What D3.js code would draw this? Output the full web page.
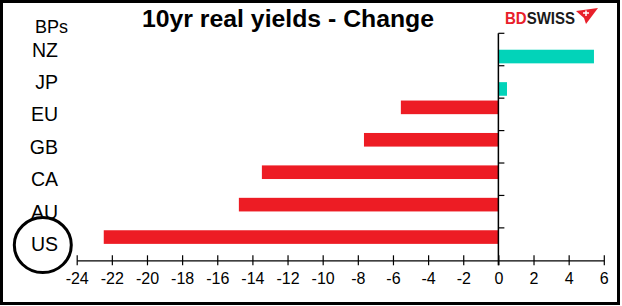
<!DOCTYPE html>
<html>
<head>
<meta charset="utf-8">
<script src="https://cdn.jsdelivr.net/npm/d3@7"></script>
<style>
  body { margin: 0; background: #fff; }
  svg { display: block; font-family: "Liberation Sans", Arial, sans-serif; }
</style>
</head>
<body>
<svg id="chart" width="622" height="306"></svg>
<script>
// Chart data
const countries = ["NZ", "JP", "EU", "GB", "CA", "AU", "US"];
const changes = [5.44, 0.49, -5.55, -7.65, -13.46, -14.77, -22.46];
const xTicks = [-24, -22, -20, -18, -16, -14, -12, -10, -8, -6, -4, -2, 0, 2, 4, 6];

const svg = d3.select("#chart");

// Outer frame
svg.append("rect")
    .attr("x", 1.5).attr("y", 1.5)
    .attr("width", 617).attr("height", 302)
    .attr("fill", "#fff")
    .attr("stroke", "#000")
    .attr("stroke-width", 3);

const x = d3.scaleLinear().domain([-24, 6]).range([76.7, 603.8]);
const y = d3.scaleBand().domain(countries).range([33.3, 260.3]).padding(0);
// red (negative) series sits high in the band, teal (positive) low
const sub = d3.scaleBand().domain(["neg", "pos"]).range([0, y.bandwidth()])
    .paddingInner(0.03).paddingOuter(0.17);

const colour = d => d < 0 ? "#ED1C24" : "#02D3B9";

// Bars
svg.append("g").selectAll("rect")
    .data(countries.map((c, i) => ({ c, v: changes[i] })))
    .join("rect")
    .attr("x", d => x(Math.min(0, d.v)))
    .attr("width", d => Math.abs(x(d.v) - x(0)))
    .attr("y", d => y(d.c) + sub(d.v < 0 ? "neg" : "pos"))
    .attr("height", sub.bandwidth())
    .attr("fill", d => colour(d.v));

// X axis with ticks crossing the line
const xAxis = svg.append("g")
    .attr("transform", `translate(0,${y.range()[1]})`)
    .call(d3.axisBottom(x).tickValues(xTicks).tickSize(5).tickSizeOuter(0).tickFormat(d3.format("d")));
xAxis.select(".domain").attr("stroke", "#000").attr("stroke-width", 1.2);
xAxis.selectAll(".tick line").attr("y1", -5).attr("stroke", "#000").attr("stroke-width", 1.2);
xAxis.selectAll(".tick text")
    .attr("y", 12)
    .attr("dy", "0.71em")
    .attr("font-size", "16px")
    .attr("fill", "#000")
    .text(d => d < 0 ? "-" + Math.abs(d) : d);

// Y axis at zero, ticks at band boundaries pointing right
const yAxis = svg.append("g");
yAxis.append("line")
    .attr("x1", x(0)).attr("x2", x(0))
    .attr("y1", y.range()[0]).attr("y2", y.range()[1] + 5)
    .attr("stroke", "#000").attr("stroke-width", 1.5);
yAxis.selectAll("line.tk")
    .data(countries)
    .join("line")
    .attr("class", "tk")
    .attr("x1", x(0)).attr("x2", x(0) + 6)
    .attr("y1", d => y(d)).attr("y2", d => y(d))
    .attr("stroke", "#000").attr("stroke-width", 1.2);

// Category labels on the far left
svg.append("g").selectAll("text")
    .data(countries)
    .join("text")
    .attr("x", 58)
    .attr("y", d => y(d) + y.bandwidth() / 2)
    .attr("dy", "0.36em")
    .attr("text-anchor", "end")
    .attr("font-size", "19.5px")
    .text(d => d);

// Circle round US
svg.append("ellipse")
    .attr("cx", 42.8)
    .attr("cy", y("US") + y.bandwidth() / 2 + 1)
    .attr("rx", 28.5).attr("ry", 27.5)
    .attr("fill", "none")
    .attr("stroke", "#000")
    .attr("stroke-width", 3);

// Title and unit label
svg.append("text")
    .attr("x", 288).attr("y", 27)
    .attr("text-anchor", "middle")
    .attr("font-size", "23.5px")
    .attr("font-weight", "bold")
    .attr("textLength", 292)
    .attr("lengthAdjust", "spacingAndGlyphs")
    .text("10yr real yields - Change");

svg.append("text")
    .attr("x", 35).attr("y", 33)
    .attr("font-size", "18px")
    .text("BPs");

// BDSWISS logo
const logo = svg.append("g");
logo.append("text")
    .attr("x", 505).attr("y", 23.5)
    .attr("font-size", "16.5px")
    .attr("font-weight", "bold")
    .attr("textLength", 70)
    .attr("lengthAdjust", "spacingAndGlyphs")
    .html('<tspan fill="#E8202A">BD</tspan><tspan fill="#1a1a1a">SWISS</tspan>');
logo.append("path")
    .attr("d", "M576,11 L598,8 L586,24 L584,18 Z")
    .attr("fill", "#E8202A");
logo.append("path")
    .attr("d", "M583,13 L589,13 M586,10.5 L586,16")
    .attr("stroke", "#fff")
    .attr("stroke-width", 1.5);
</script>
</body>
</html>
